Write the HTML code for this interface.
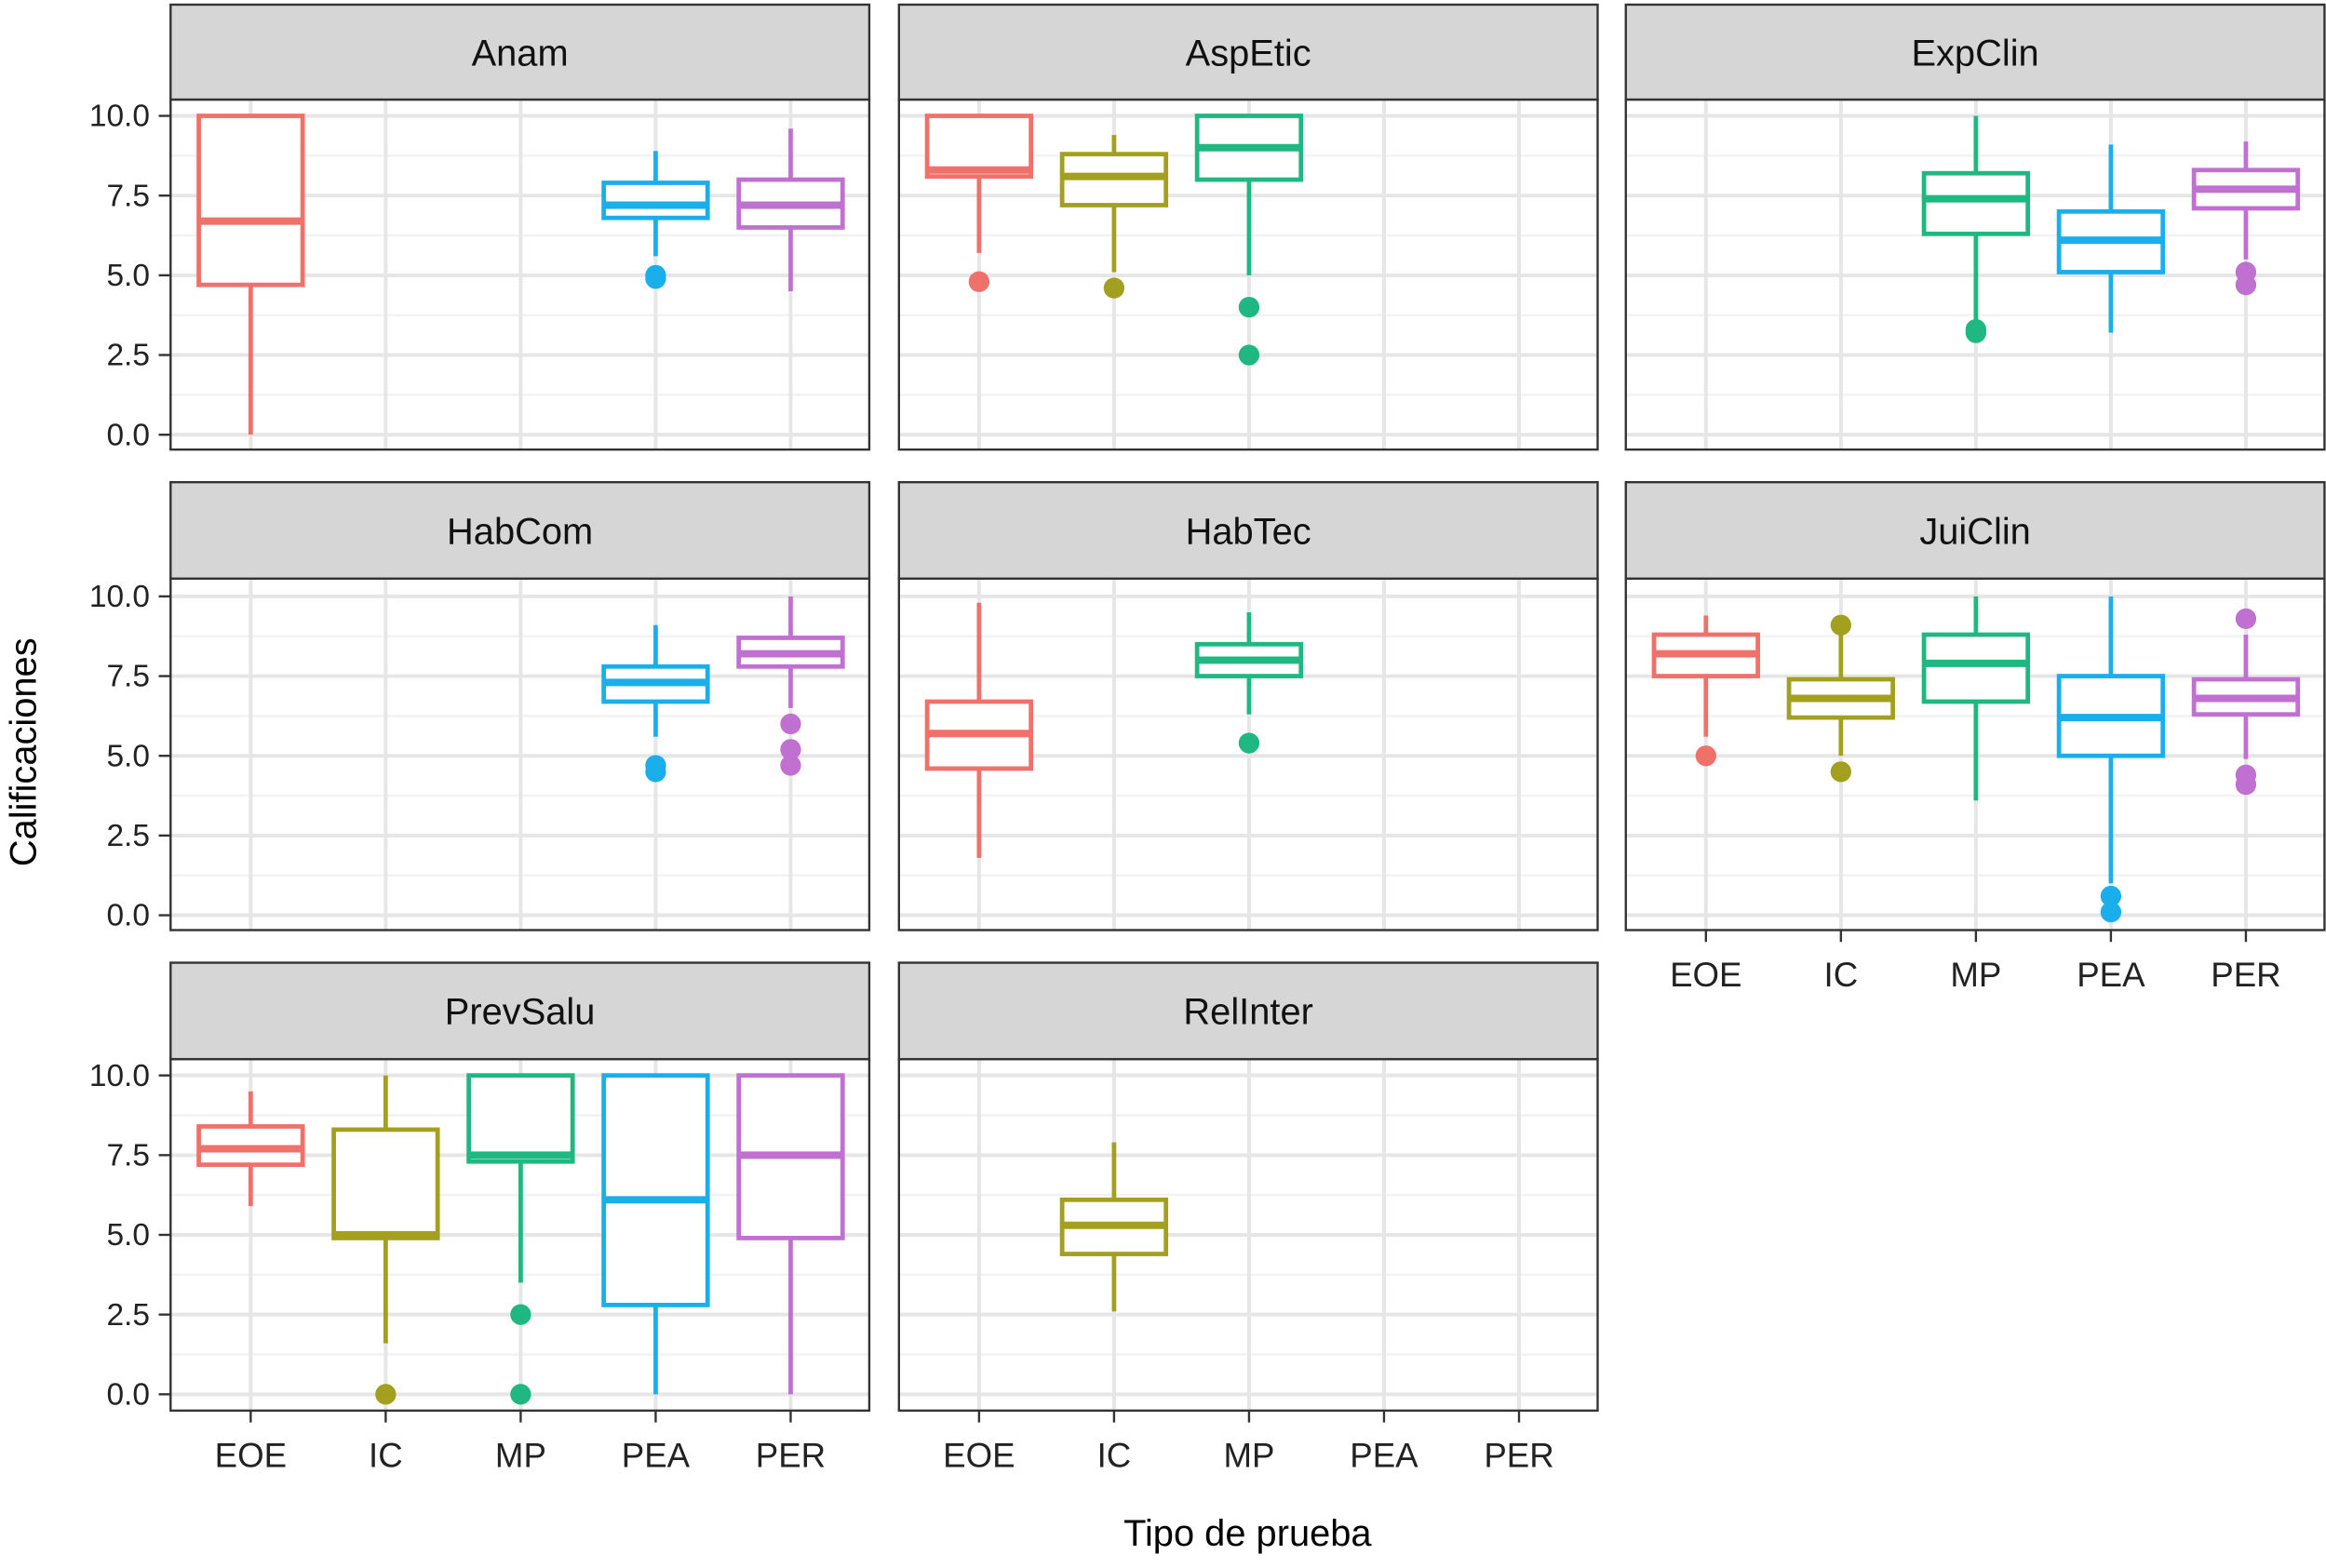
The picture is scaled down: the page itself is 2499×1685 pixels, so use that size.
<!DOCTYPE html>
<html><head><meta charset="utf-8"><style>
html,body{margin:0;padding:0;background:#fff;}
svg{display:block;font-family:"Liberation Sans",Arial,sans-serif;}
</style></head><body>
<svg id="chart" width="2499" height="1685" viewBox="0 0 1568 1057" xmlns="http://www.w3.org/2000/svg">
<text x="24" y="507" font-size="25" text-anchor="middle" transform="rotate(-90 24 507)">Calificaciones</text>
<text x="841" y="1042" font-size="25" text-anchor="middle">Tipo de prueba</text>
</svg>
<script>
const categories = ["EOE","IC","MP","PEA","PER"];
const colors = ["#F0706A","#A3A020","#20B882","#1AAEEA","#C070D0"];
const facets = ["Anam","AspEtic","ExpClin","HabCom","HabTec","JuiClin","PrevSalu","RelInter"];
const yTicks = [0,2.5,5,7.5,10];
const yTickLabels = ["0.0","2.5","5.0","7.5","10.0"];
const boxAnam = [[0,0,4.7,6.7,10,10],[3,5.6,6.8,7.2,7.9,8.9],[4,4.5,6.5,7.2,8.0,9.6]];
const boxAspEtic = [[0,5.7,8.1,8.3,10,10],[1,5.1,7.2,8.1,8.8,9.4],[2,5.0,8.0,9.0,10,10]];
const boxExpClin = [[2,3.6,6.3,7.4,8.2,10],[3,3.2,5.1,6.1,7.0,9.1],[4,5.5,7.1,7.7,8.3,9.2]];
const boxHabCom = [[3,5.6,6.7,7.3,7.8,9.1],[4,6.5,7.8,8.2,8.7,10]];
const boxHabTec = [[0,1.8,4.6,5.7,6.7,9.8],[2,6.3,7.5,8.0,8.5,9.5]];
const boxJuiClin = [[0,5.6,7.5,8.2,8.8,9.4],[1,5.0,6.2,6.8,7.4,8.9],[2,3.6,6.7,7.9,8.8,10],[3,1.0,5.0,6.2,7.5,10],[4,4.9,6.3,6.8,7.4,8.8]];
const boxPrevSalu = [[0,5.9,7.2,7.7,8.4,9.5],[1,1.6,4.9,5.0,8.3,10],[2,3.5,7.3,7.5,10,10],[3,0,2.8,6.1,10,10],[4,0,4.9,7.5,10,10]];
const boxRelInter = [[1,2.6,4.4,5.3,6.1,7.9]];
const outAnam = [[3,5.0],[3,4.9]];
const outAspEtic = [[0,4.8],[1,4.6],[2,4.0],[2,2.5]];
const outExpClin = [[2,3.3],[2,3.2],[4,5.1],[4,4.7]];
const outHabCom = [[3,4.7],[3,4.5],[4,6.0],[4,5.2],[4,4.7]];
const outHabTec = [[2,5.4]];
const outJuiClin = [[0,5.0],[1,9.1],[1,4.5],[3,0.6],[3,0.1],[4,9.3],[4,4.4],[4,4.1]];
const outPrevSalu = [[1,0],[2,2.5],[2,0]];
const outRelInter = [];
const boxes=[boxAnam,boxAspEtic,boxExpClin,boxHabCom,boxHabTec,boxJuiClin,boxPrevSalu,boxRelInter];
const outs=[outAnam,outAspEtic,outExpClin,outHabCom,outHabTec,outJuiClin,outPrevSalu,outRelInter];

const NS="http://www.w3.org/2000/svg";
const svg=document.getElementById("chart");
function mk(tag,attrs,parent){const e=document.createElementNS(NS,tag);for(const k in attrs)e.setAttribute(k,attrs[k]);(parent||svg).appendChild(e);return e;}
const colX=[115,606,1096], colW=471;
const rows=[{st:3,pt:67,pb:303,y0:293},{st:325,pt:390,pb:627,y0:617},{st:649,pt:714,pb:951,y0:940}];
const unit=21.5;
facets.forEach((name,fi)=>{
  const r=rows[Math.floor(fi/3)], x0=colX[fi%3];
  const ys=v=>r.y0-v*unit;
  const xs=i=>x0+54+91*i;
  const g=mk("g",{});
  
  
  mk("rect",{x:x0,y:r.pt,width:colW,height:r.pb-r.pt,fill:"#fff"},g);
  for(let v=1.25;v<10;v+=2.5){mk("line",{x1:x0,x2:x0+colW,y1:ys(v),y2:ys(v),stroke:"#F2F2F2","stroke-width":1.5},g);}
  yTicks.forEach(v=>mk("line",{x1:x0,x2:x0+colW,y1:ys(v),y2:ys(v),stroke:"#E6E6E6","stroke-width":2.5},g));
  categories.forEach((c,i)=>mk("line",{x1:xs(i),x2:xs(i),y1:r.pt,y2:r.pb,stroke:"#E6E6E6","stroke-width":2.5},g));
  boxes[fi].forEach(b=>{
    const [ci,lo,q1,md,q3,hi]=b, cx=xs(ci), col=colors[ci], w=35;
    const bg=mk("g",{stroke:col,"stroke-width":3,fill:"#fff"},g);
    
    
    mk("line",{x1:cx,x2:cx,y1:ys(hi),y2:ys(q3)},bg);
    mk("line",{x1:cx,x2:cx,y1:ys(q1),y2:ys(lo)},bg);
    mk("rect",{x:cx-w,y:ys(q3),width:2*w,height:ys(q1)-ys(q3)},bg);
    mk("line",{x1:cx-w,x2:cx+w,y1:ys(md),y2:ys(md),"stroke-width":5},bg);
  });
  outs[fi].forEach(o=>{
    const p=mk("circle",{cx:xs(o[0]),cy:ys(o[1]),r:7,fill:colors[o[0]]},g);
    
    
  });
  mk("rect",{x:x0,y:r.pt,width:colW,height:r.pb-r.pt,fill:"none",stroke:"#333","stroke-width":1.5},g);
  const s=mk("rect",{x:x0,y:r.st,width:colW,height:r.pt-r.st,fill:"#D6D6D6",stroke:"#333","stroke-width":1.5},g);
  
  
  const t=mk("text",{x:x0+colW/2,y:(r.st+r.pt)/2+9,"font-size":25,"text-anchor":"middle",fill:"#111"},g);
  t.textContent=name;
  
  
  if(fi%3===0){
    yTicks.forEach((v,k)=>{
      mk("line",{x1:x0-8,x2:x0,y1:ys(v),y2:ys(v),stroke:"#333","stroke-width":1.5},g);
      const l=mk("text",{x:x0-14,y:ys(v)+7,"font-size":21,"text-anchor":"end",fill:"#222"},g);
      l.textContent=yTickLabels[k];
      
      
    });
  }
  if(fi>=5){
    categories.forEach((c,i)=>{
      mk("line",{x1:xs(i),x2:xs(i),y1:r.pb,y2:r.pb+8,stroke:"#333","stroke-width":1.5},g);
      const l=mk("text",{x:xs(i),y:r.pb+38,"font-size":23,"text-anchor":"middle",fill:"#222"},g);
      l.textContent=c;
      
      
    });
  }
});
</script>
</body></html>
